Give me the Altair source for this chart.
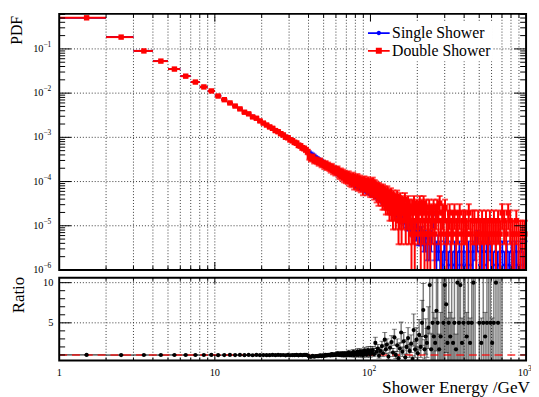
import math
import altair as alt
import pandas as pd

FONT = "'Liberation Serif', 'Times New Roman', Times, serif"

# ---------------- values ----------------
low_bins = list(range(1, 101))          # lower bin edges (GeV), 1 GeV wide

double_pdf = [0.505, 0.185, 0.090, 0.053, 0.035, 0.0242, 0.0178, 0.0138, 0.0112, 0.0086,
              0.0071, 0.0060, 0.0051, 0.0044, 0.0037, 0.0034, 0.0029, 0.0027, 0.00235, 0.0021,
              0.0019, 0.00172, 0.0016, 0.00142, 0.00134, 0.00121, 0.00113, 0.00101, 0.00098, 0.00088,
              0.00084, 0.00077, 0.00074, 0.00066, 0.00064, 0.00058, 0.00056, 0.00052, 0.00047, 0.00036,
              3.3e-4, 3.6e-4, 3.0e-4, 3.1e-4, 2.9e-4, 2.7e-4, 2.9e-4, 2.5e-4, 2.6e-4, 2.3e-4,
              2.5e-4, 2.2e-4, 2.3e-4, 2.1e-4, 1.95e-4, 2.15e-4, 1.8e-4, 1.9e-4, 1.7e-4, 1.8e-4,
              1.85e-4, 1.55e-4, 1.45e-4, 1.65e-4, 1.35e-4, 1.55e-4, 1.25e-4, 1.45e-4, 1.2e-4, 1.35e-4,
              1.15e-4, 1.4e-4, 1.05e-4, 1.2e-4, 1.0e-4, 1.15e-4, 1.3e-4, 0.9e-4, 1.1e-4, 1.05e-4,
              0.9e-4, 1.2e-4, 0.85e-4, 1.0e-4, 1.1e-4, 0.8e-4, 0.95e-4, 1.0e-4, 0.7e-4, 0.9e-4,
              1.05e-4, 0.8e-4, 0.9e-4, 0.7e-4, 0.85e-4, 1.0e-4, 0.75e-4, 0.8e-4, 0.65e-4, 0.9e-4]
double_err = [1.8e-3, 1.1e-3, 7.6e-4, 5.9e-4, 4.8e-4, 4.0e-4, 3.4e-4, 3.0e-4, 2.7e-4, 2.4e-4,
              2.1e-4, 2.0e-4, 1.8e-4, 1.7e-4, 1.55e-4, 1.5e-4, 1.37e-4, 1.3e-4, 1.24e-4, 1.17e-4,
              1.11e-4, 1.06e-4, 1.02e-4, 9.6e-5, 9.3e-5, 8.9e-5, 8.6e-5, 8.1e-5, 8.0e-5, 7.6e-5,
              7.4e-5, 7.1e-5, 6.9e-5, 6.5e-5, 6.4e-5, 6.1e-5, 6.0e-5, 5.8e-5, 5.5e-5, 4.8e-5,
              4.6e-5, 4.8e-5, 4.4e-5, 4.5e-5, 4.3e-5, 4.2e-5, 4.3e-5, 4.0e-5, 4.1e-5, 3.9e-5,
              4.0e-5, 3.8e-5, 3.9e-5, 3.7e-5, 3.6e-5, 3.7e-5, 3.4e-5, 3.5e-5, 3.3e-5, 3.4e-5,
              3.5e-5, 3.2e-5, 3.1e-5, 3.3e-5, 3.0e-5, 3.2e-5, 2.9e-5, 3.1e-5, 2.8e-5, 3.0e-5,
              2.7e-5, 3.0e-5, 2.6e-5, 2.8e-5, 2.55e-5, 2.7e-5, 2.9e-5, 2.4e-5, 2.7e-5, 2.6e-5,
              2.4e-5, 2.8e-5, 2.35e-5, 2.55e-5, 2.7e-5, 2.3e-5, 2.5e-5, 2.55e-5, 2.1e-5, 2.4e-5,
              2.6e-5, 2.3e-5, 2.4e-5, 2.1e-5, 2.35e-5, 2.55e-5, 2.2e-5, 2.3e-5, 2.05e-5, 2.4e-5]

single_pdf = [0.502, 0.187, 0.0905, 0.0535, 0.0351, 0.0244, 0.0179, 0.0139, 0.0112, 0.0088,
              0.0072, 0.0060, 0.0052, 0.0044, 0.0038, 0.0034, 0.0030, 0.0027, 0.0024, 0.00214,
              0.00194, 0.00176, 0.00160, 0.00146, 0.00134, 0.00123, 0.00114, 0.00106, 0.00098, 0.00091,
              0.00085, 0.00079, 0.00074, 0.00069, 0.00064, 0.00060, 0.00056, 0.00052, 0.00049, 0.00046,
              4.3e-4, 4.1e-4, 3.85e-4, 3.6e-4, 3.4e-4, 3.2e-4, 3.05e-4, 2.9e-4, 2.75e-4, 2.6e-4,
              2.5e-4, 2.35e-4, 2.25e-4, 2.15e-4, 2.05e-4, 1.95e-4, 1.85e-4, 1.8e-4, 1.7e-4, 1.65e-4,
              1.55e-4, 1.5e-4, 1.45e-4, 1.42e-4, 1.36e-4, 1.31e-4, 1.3e-4, 1.24e-4, 1.2e-4, 1.16e-4,
              1.12e-4, 1.08e-4, 1.05e-4, 1.04e-4, 0.99e-4, 0.97e-4, 0.95e-4, 0.92e-4, 0.9e-4, 0.88e-4,
              0.86e-4, 0.84e-4, 0.82e-4, 0.8e-4, 0.78e-4, 0.77e-4, 0.75e-4, 0.74e-4, 0.72e-4, 0.7e-4,
              0.69e-4, 0.68e-4, 0.66e-4, 0.65e-4, 0.64e-4, 0.63e-4, 0.61e-4, 0.6e-4, 0.59e-4, 0.58e-4]
single_err = [8.1e-4, 4.9e-4, 3.4e-4, 2.6e-4, 2.1e-4, 1.8e-4, 1.5e-4, 1.3e-4, 1.2e-4, 1.07e-4,
              9.7e-5, 8.8e-5, 8.2e-5, 7.6e-5, 7.0e-5, 6.6e-5, 6.2e-5, 5.9e-5, 5.6e-5, 5.3e-5,
              5.0e-5, 4.8e-5, 4.6e-5, 4.4e-5, 4.2e-5, 4.0e-5, 3.85e-5, 3.7e-5, 3.6e-5, 3.45e-5,
              3.3e-5, 3.2e-5, 3.1e-5, 3.0e-5, 2.9e-5, 2.8e-5, 2.7e-5, 2.6e-5, 2.5e-5, 2.45e-5,
              2.4e-5, 2.3e-5, 2.25e-5, 2.15e-5, 2.1e-5, 2.05e-5, 2.0e-5, 1.95e-5, 1.9e-5, 1.85e-5,
              1.8e-5, 1.75e-5, 1.7e-5, 1.67e-5, 1.63e-5, 1.6e-5, 1.55e-5, 1.53e-5, 1.5e-5, 1.46e-5,
              1.42e-5, 1.4e-5, 1.37e-5, 1.36e-5, 1.33e-5, 1.3e-5, 1.3e-5, 1.27e-5, 1.25e-5, 1.23e-5,
              1.2e-5, 1.18e-5, 1.17e-5, 1.16e-5, 1.13e-5, 1.12e-5, 1.11e-5, 1.09e-5, 1.08e-5, 1.07e-5,
              1.06e-5, 1.04e-5, 1.03e-5, 1.02e-5, 1.0e-5, 1.0e-5, 9.9e-6, 9.8e-6, 9.7e-6, 9.5e-6,
              9.5e-6, 9.4e-6, 9.3e-6, 9.2e-6, 9.1e-6, 9.0e-6, 8.9e-6, 8.8e-6, 8.8e-6, 8.7e-6]

# sparse high-energy bins: lower edge and number of entries (PDF of one entry = unit)
double_unit = 6.5e-6
double_hi_lo = [101, 102, 103, 104, 105, 106, 107, 108, 109, 110, 111, 112, 113, 114, 115, 116, 117, 118, 119, 120,
                121, 122, 123, 124, 125, 126, 127, 128, 129, 130, 131, 132, 133, 134, 135, 136, 137, 138, 139, 140,
                142, 143, 145, 146, 148, 149, 151, 152, 154, 155, 157, 158, 160, 162, 164, 166, 168, 170, 172, 174,
                176, 178, 180, 183, 185, 187, 190, 192, 195, 198, 201, 204, 207, 210, 213, 216, 219, 222, 225, 228,
                232, 235, 238, 242, 246, 250, 254, 258, 263, 268, 273, 278, 283, 289, 295, 301, 308, 315, 322, 330,
                338, 346, 355, 364, 374, 384, 394, 405, 416, 428, 440, 452, 465, 478, 492, 506, 521, 536, 552, 568,
                585, 603, 621, 640, 660, 680, 701, 722, 744, 767, 790, 814, 839, 865, 892, 920, 950, 980]
double_hi_n = [14, 10, 15, 11, 9, 13, 10, 12, 8, 11, 10, 7, 11, 9, 8, 10, 7, 9, 6, 10,
               8, 6, 9, 7, 5, 8, 6, 9, 5, 7, 6, 4, 7, 5, 8, 4, 6, 5, 3, 7,
               4, 6, 3, 5, 7, 4, 2, 5, 3, 6, 4, 2, 5, 3, 4, 6, 2, 4, 3, 5,
               2, 4, 3, 1, 4, 2, 5, 1, 3, 4, 2, 3, 5, 1, 4, 2, 5, 1, 3, 4,
               1, 2, 4, 1, 3, 2, 4, 1, 3, 4, 2, 5, 1, 3, 2, 4, 1, 2, 3, 1,
               2, 3, 1, 2, 3, 1, 2, 2, 1, 3, 1, 2, 2, 1, 2, 1, 2, 1, 2, 1,
               2, 1, 2, 1, 2, 1, 3, 2, 1, 3, 2, 1, 1, 2, 1, 1, 1, 1]

single_unit = 1.3e-6
single_hi_lo = [101, 103, 105, 107, 109, 111, 113, 115, 117, 119, 122, 125, 128, 131, 134, 137, 140, 143, 147, 151,
                155, 159, 163, 167, 171, 176, 181, 186, 191, 196, 201, 207, 213, 219, 225, 231, 238, 245, 252, 258,
                265, 272, 280, 288, 297, 306, 316, 326, 337, 348, 360, 372, 385, 398, 412, 426, 440, 455, 470, 486,
                503, 520, 538, 556, 575, 595, 615, 636, 658, 680, 703, 727, 752, 778, 805, 833, 862, 892, 923, 955, 985]
single_hi_n = [44, 41, 43, 38, 39, 35, 36, 32, 33, 30, 29, 27, 25, 23, 22, 20, 19, 17, 16, 15,
               13, 12, 12, 10, 9, 9, 8, 7, 6, 6, 5, 5, 5, 4, 4, 3, 3, 4, 10, 3,
               2, 3, 2, 1, 2, 3, 1, 2, 1, 2, 1, 2, 1, 2, 1, 2, 1, 2, 3, 4,
               1, 2, 1, 2, 3, 2, 1, 2, 1, 2, 2, 1, 2, 1, 2, 1, 2, 1, 2, 1, 2]

ratio_val = [1.006, 0.989, 0.994, 0.991, 0.997, 0.992, 0.994, 0.993, 1.0, 0.977,
             0.986, 1.0, 0.981, 1.0, 0.974, 1.0, 0.967, 1.0, 0.979, 0.981,
             0.979, 0.977, 1.0, 0.973, 1.0, 0.984, 0.991, 0.953, 1.0, 0.967,
             0.988, 0.975, 1.0, 0.957, 1.0, 0.967, 1.0, 1.0, 0.959, 0.783,
             0.77, 0.88, 0.78, 0.86, 0.85, 0.84, 0.95, 0.86, 0.95, 0.88,
             1.0, 0.94, 1.02, 0.98, 0.95, 1.10, 0.97, 1.06, 1.0, 1.09,
             1.19, 1.03, 1.0, 1.16, 0.99, 1.18, 0.96, 1.17, 1.0, 1.16,
             1.03, 1.30, 1.0, 1.15, 1.01, 1.19, 1.37, 0.98, 1.22, 1.19,
             1.05, 1.43, 1.04, 1.25, 1.41, 1.04, 1.27, 1.35, 0.97, 1.29,
             1.52, 1.18, 1.36, 1.08, 1.33, 1.59, 1.23, 1.33, 1.10, 1.55]
ratio_err = [0.004, 0.007, 0.01, 0.012, 0.015, 0.018, 0.021, 0.024, 0.027, 0.03,
             0.033, 0.036, 0.039, 0.042, 0.046, 0.048, 0.051, 0.054, 0.057, 0.06,
             0.063, 0.066, 0.07, 0.072, 0.076, 0.078, 0.082, 0.083, 0.088, 0.09,
             0.093, 0.095, 0.1, 0.1, 0.105, 0.106, 0.11, 0.113, 0.112, 0.1,
             0.1, 0.115, 0.105, 0.118, 0.12, 0.122, 0.14, 0.13, 0.145, 0.14,
             0.16, 0.155, 0.17, 0.168, 0.168, 0.19, 0.175, 0.195, 0.19, 0.205,
             0.22, 0.2, 0.2, 0.23, 0.21, 0.235, 0.21, 0.24, 0.22, 0.245,
             0.23, 0.28, 0.23, 0.27, 0.24, 0.28, 0.31, 0.25, 0.3, 0.3,
             0.28, 0.35, 0.29, 0.33, 0.36, 0.3, 0.35, 0.37, 0.31, 0.37,
             0.42, 0.36, 0.4, 0.36, 0.41, 0.46, 0.4, 0.43, 0.39, 0.48]
ratio_hi_lo = [101, 103, 105, 107, 109, 111, 113, 115, 118, 120, 123, 125, 127, 130, 133, 136, 139, 142, 145, 148,
               151, 154, 157, 160, 163, 167, 170, 174, 178, 182, 186, 189, 193, 197, 201, 205, 210, 214, 218, 222,
               226, 230, 235, 240, 245, 250, 255, 260, 265, 270, 276, 282, 288, 294, 300, 306, 312, 318, 325, 332,
               339, 346, 354, 362, 370, 378, 387, 396, 405, 415, 425, 436, 447, 458, 470, 500, 515, 530, 545, 560,
               575, 590, 605, 620, 640, 660, 680, 700]
ratio_hi_val = [1.3, 1.6, 1.1, 2.5, 1.4, 1.8, 0.9, 1.5, 2.1, 1.2, 2.9, 1.7, 2.3, 0.8, 1.9, 2.6, 1.3, 3.2, 1.0, 2.2,
                0.6, 1.8, 3.8, 1.4, 2.7, 0.7, 2.0, 3.1, 1.5, 2.4, 0.5, 4.1, 1.7, 2.9, 1.2, 3.5, 2.0, 5.0, 6.6, 1.7,
                3.3, 2.5, 4.4, 9.7, 1.7, 5.0, 3.3, 2.5, 6.5, 5.0, 1.7, 3.3, 15.0, 5.0, 9.7, 7.3, 2.5, 5.0, 3.3, 20.0,
                2.5, 5.0, 1.7, 10.0, 5.0, 9.7, 2.5, 5.0, 15.0, 3.3, 5.0, 2.5, 5.0, 10.0, 25.0, 5.0, 2.5, 5.0, 3.3, 5.0,
                15.0, 5.0, 2.5, 5.0, 10.0, 5.0, 20.0, 15.0]
ratio_hi_err = [0.35, 0.45, 0.3, 0.7, 0.4, 0.5, 0.3, 0.45, 0.6, 0.4, 0.9, 0.55, 0.7, 0.35, 0.6, 0.8, 0.5, 1.0, 0.45, 0.8,
                0.35, 0.7, 1.3, 0.6, 1.1, 0.4, 0.9, 1.3, 0.8, 1.1, 0.4, 2.0, 1.0, 1.5, 0.8, 1.9, 1.3, 2.8, 3.3, 1.2,
                2.2, 1.8, 2.6, 6.0, 1.9, 7.1, 3.0, 3.1, 5.0, 7.1, 1.9, 3.0, 15.0, 7.1, 12.0, 6.0, 3.1, 7.1, 3.0, 20.0,
                3.1, 7.1, 1.9, 12.0, 7.1, 12.0, 3.1, 7.1, 15.0, 3.0, 7.1, 3.1, 7.1, 12.0, 25.0, 7.1, 3.1, 7.1, 3.0, 7.1,
                15.0, 7.1, 3.1, 7.1, 12.0, 7.1, 20.0, 15.0]

series_names = ["Single Shower", "Double Shower"]
series_colors = ["#0000ff", "#ff0000"]

# ---------------- geometry ----------------
W, H = 474, 352
T_BOT, T_TOP = 260, 0          # top panel pixel range
R_BOT, R_TOP = 352, 268        # ratio panel pixel range
TOP_MAX, TOP_MIN = 0.62, 1e-6
R_MIN, R_MAX = 0.3, 10.6

XS = alt.Scale(type="log", domain=[1, 1000], nice=False)
YT = alt.Scale(type="log", domain=[TOP_MIN, TOP_MAX], range=[T_BOT, T_TOP], clamp=True, nice=False)
YR = alt.Scale(type="linear", domain=[R_MIN, R_MAX], range=[R_BOT, R_TOP], clamp=True, nice=False, zero=False)


def X(f):
    return alt.X(f, scale=XS, axis=None)


def YTop(f):
    return alt.Y(f, scale=YT, axis=None)


def YRat(f):
    return alt.Y(f, scale=YR, axis=None)


def hist_df(los, vals, errs, floor):
    rows = []
    for lo, v, e in zip(los, vals, errs):
        rows.append(dict(lo=lo, hi=lo + 1, c=lo + 0.5, v=v, ylo=max(v - e, floor), yhi=v + e))
    return pd.DataFrame(rows)


double_df = hist_df(low_bins + double_hi_lo,
                    double_pdf + [n * double_unit for n in double_hi_n],
                    double_err + [math.sqrt(n) * double_unit for n in double_hi_n], 1e-9)
single_df = hist_df(low_bins + single_hi_lo,
                    single_pdf + [n * single_unit for n in single_hi_n],
                    single_err + [math.sqrt(n) * single_unit for n in single_hi_n], 1e-9)
ratio_df = hist_df(low_bins + ratio_hi_lo, ratio_val + ratio_hi_val, ratio_err + ratio_hi_err, -100)

layers = []

# ---------------- grid ----------------
GRID = dict(color="#222222", strokeWidth=1, strokeDash=[1, 2], opacity=0.9)
x_grid = [k * 10 ** p for p in range(0, 3) for k in range(1, 10) if k * 10 ** p > 1]
xg = pd.DataFrame({"g": x_grid})
layers.append(alt.Chart(xg).mark_rule(**GRID).encode(x=X("g:Q"), y=alt.value(T_TOP), y2=alt.value(T_BOT)))
layers.append(alt.Chart(xg).mark_rule(**GRID).encode(x=X("g:Q"), y=alt.value(R_TOP), y2=alt.value(R_BOT)))
layers.append(alt.Chart(pd.DataFrame({"g": [1e-5, 1e-4, 1e-3, 1e-2, 1e-1]})).mark_rule(**GRID).encode(
    y=YTop("g:Q"), x=alt.value(0), x2=alt.value(W)))
layers.append(alt.Chart(pd.DataFrame({"g": [5, 10]})).mark_rule(**GRID).encode(
    y=YRat("g:Q"), x=alt.value(0), x2=alt.value(W)))


# ---------------- histograms ----------------
def hist_layers(df, color, marker, msize, lw, cap):
    base = alt.Chart(df)
    out = [
        base.mark_rule(color=color, strokeWidth=lw).encode(x=X("lo:Q"), x2="hi:Q", y=YTop("v:Q")),
        base.mark_rule(color=color, strokeWidth=lw).encode(x=X("c:Q"), y=YTop("ylo:Q"), y2="yhi:Q"),
        base.mark_tick(color=color, orient="horizontal", size=cap, thickness=lw).encode(x=X("c:Q"), y=YTop("yhi:Q")),
        base.transform_filter(f"datum.ylo > {TOP_MIN}").mark_tick(
            color=color, orient="horizontal", size=cap, thickness=lw).encode(x=X("c:Q"), y=YTop("ylo:Q")),
    ]
    if marker == "circle":
        out.append(base.mark_circle(color=color, size=msize, opacity=1).encode(x=X("c:Q"), y=YTop("v:Q")))
    else:
        out.append(base.mark_square(color=color, size=msize, opacity=1).encode(x=X("c:Q"), y=YTop("v:Q")))
    return out


layers += hist_layers(single_df, series_colors[0], "circle", 12, 1.8, 5)
layers += hist_layers(double_df, series_colors[1], "square", 30, 2, 6)

# ---------------- ratio ----------------
rb = alt.Chart(ratio_df)
RC = dict(color="black", opacity=0.5)
layers.append(rb.mark_rule(color="black", strokeWidth=1).encode(x=X("lo:Q"), x2="hi:Q", y=YRat("v:Q")))
layers.append(rb.mark_rule(strokeWidth=1.5, **RC).encode(x=X("c:Q"), y=YRat("ylo:Q"), y2="yhi:Q"))
layers.append(rb.transform_filter(f"datum.yhi < {R_MAX}").mark_tick(
    orient="horizontal", size=5, thickness=1, **RC).encode(x=X("c:Q"), y=YRat("yhi:Q")))
layers.append(rb.transform_filter(f"datum.ylo > {R_MIN}").mark_tick(
    orient="horizontal", size=5, thickness=1, **RC).encode(x=X("c:Q"), y=YRat("ylo:Q")))
layers.append(alt.Chart(pd.DataFrame({"r": [1.0]})).mark_rule(
    color="#ff0000", strokeWidth=2, strokeDash=[8, 5], opacity=0.6).encode(
    y=YRat("r:Q"), x=alt.value(0), x2=alt.value(W)))
layers.append(rb.transform_filter(f"datum.v <= {R_MAX}").mark_circle(color="black", size=18, opacity=1).encode(
    x=X("c:Q"), y=YRat("v:Q")))

# ---------------- ticks (inward, ROOT style) ----------------
def yticks(vals, scale_fn, length):
    d = pd.DataFrame({"t": vals})
    return [
        alt.Chart(d).mark_rule(color="black", strokeWidth=1).encode(y=scale_fn("t:Q"), x=alt.value(0), x2=alt.value(length)),
        alt.Chart(d).mark_rule(color="black", strokeWidth=1).encode(y=scale_fn("t:Q"), x=alt.value(W), x2=alt.value(W - length)),
    ]


def xticks(vals, y0, length):
    d = pd.DataFrame({"t": vals})
    return [alt.Chart(d).mark_rule(color="black", strokeWidth=1).encode(x=X("t:Q"), y=alt.value(y0), y2=alt.value(y0 + length))]


top_major = [10.0 ** p for p in range(-6, 0)]
top_minor = [k * 10.0 ** p for p in range(-6, 0) for k in range(2, 10) if k * 10.0 ** p <= TOP_MAX]
layers += yticks(top_major, YTop, 12) + yticks(top_minor, YTop, 6)
layers += yticks([5, 10], YRat, 12) + yticks([1, 2, 3, 4, 6, 7, 8, 9], YRat, 6)
x_major = [10, 100]
x_minor = [v for v in x_grid if v not in x_major]
layers += xticks(x_major, T_BOT, -8) + xticks(x_minor, T_BOT, -4)
layers += xticks(x_major, T_TOP, 8) + xticks(x_minor, T_TOP, 4)
layers += xticks(x_major, R_BOT, -6) + xticks(x_minor, R_BOT, -3)
layers += xticks(x_major, R_TOP, 6) + xticks(x_minor, R_TOP, 3)

# ---------------- frames ----------------
one = pd.DataFrame({"a": [0]})
FR = dict(fillOpacity=0, stroke="black", strokeWidth=2)
layers.append(alt.Chart(one).mark_rect(**FR).encode(x=alt.value(0), x2=alt.value(W), y=alt.value(T_TOP), y2=alt.value(T_BOT)))
layers.append(alt.Chart(one).mark_rect(**FR).encode(x=alt.value(0), x2=alt.value(W), y=alt.value(R_TOP), y2=alt.value(R_BOT)))

# ---------------- tick labels ----------------
TXT = dict(font=FONT, color="black")
top_lab = pd.DataFrame({"t": top_major, "e": ["\u22126", "\u22125", "\u22124", "\u22123", "\u22122", "\u22121"]})
layers.append(alt.Chart(top_lab).mark_text(align="right", baseline="middle", fontSize=10.5, **TXT).encode(
    y=YTop("t:Q"), x=alt.value(-16), text=alt.value("10")))
layers.append(alt.Chart(top_lab).mark_text(align="left", baseline="middle", fontSize=7.5, dy=-4, **TXT).encode(
    y=YTop("t:Q"), x=alt.value(-16), text="e:N"))
layers.append(alt.Chart(pd.DataFrame({"t": [5, 10], "s": ["5", "10"]})).mark_text(
    align="right", baseline="middle", fontSize=10.5, **TXT).encode(y=YRat("t:Q"), x=alt.value(-6), text="s:N"))

XL_Y = 365
layers.append(alt.Chart(pd.DataFrame({"t": [1, 10], "s": ["1", "10"]})).mark_text(
    align="center", baseline="middle", fontSize=10.5, **TXT).encode(x=X("t:Q"), y=alt.value(XL_Y), text="s:N"))
hi_lab = pd.DataFrame({"t": [100, 1000], "e": ["2", "3"]})
layers.append(alt.Chart(hi_lab).mark_text(align="right", baseline="middle", fontSize=10.5, dx=2, **TXT).encode(
    x=X("t:Q"), y=alt.value(XL_Y), text=alt.value("10")))
layers.append(alt.Chart(hi_lab).mark_text(align="left", baseline="middle", fontSize=7.5, dx=2, dy=-4, **TXT).encode(
    x=X("t:Q"), y=alt.value(XL_Y), text="e:N"))

# ---------------- titles ----------------
layers.append(alt.Chart(one).mark_text(text="PDF", angle=270, align="right", baseline="middle", fontSize=16, **TXT).encode(
    x=alt.value(-43), y=alt.value(2)))
layers.append(alt.Chart(one).mark_text(text="Ratio", angle=270, align="right", baseline="middle", fontSize=17, **TXT).encode(
    x=alt.value(-41), y=alt.value(267)))
layers.append(alt.Chart(one).mark_text(text="Shower Energy /GeV", align="right", baseline="alphabetic", fontSize=17.5, **TXT).encode(
    x=alt.value(478), y=alt.value(385)))

# ---------------- legend ----------------
line = "M-1.16,-0.1H1.16V0.1H-1.16Z"
shape_paths = [line + " M0.24,0A0.24,0.24,0,1,1,-0.24,0A0.24,0.24,0,1,1,0.24,0Z",
               line + " M-0.32,-0.32H0.32V0.32H-0.32Z"]
leg = alt.Legend(title=None, orient="none", legendX=313, legendY=8, labelFont=FONT, labelFontSize=16,
                 labelColor="black", symbolSize=361, symbolStrokeWidth=0, symbolOpacity=1, labelOffset=4,
                 rowPadding=0, padding=2, fillColor="white", labelLimit=300)
leg_df = pd.DataFrame({"series": series_names, "x": [2, 2], "y": [0.01, 0.01]})
layers.append(alt.Chart(leg_df).mark_point(filled=True, opacity=0, size=1).encode(
    x=X("x:Q"), y=YTop("y:Q"),
    color=alt.Color("series:N", scale=alt.Scale(domain=series_names, range=series_colors), legend=leg),
    shape=alt.Shape("series:N", scale=alt.Scale(domain=series_names, range=shape_paths), legend=leg)))

chart = alt.layer(*layers).resolve_scale(y="independent").properties(
    width=W, height=H,
    autosize=alt.AutoSizeParams(type="none"),
    padding={"left": 52, "top": 3, "right": 5, "bottom": 34},
    background="white",
).configure_view(stroke=None)

chart.save("out.html", embed_options={"renderer": "svg", "actions": False})
